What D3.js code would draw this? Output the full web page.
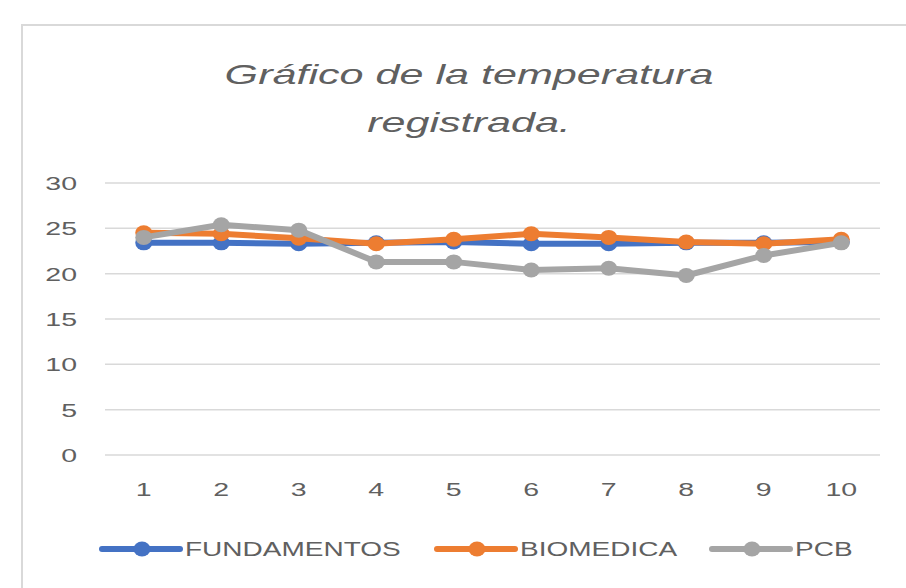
<!DOCTYPE html>
<html>
<head>
<meta charset="utf-8">
<script src="https://cdn.jsdelivr.net/npm/d3@7"></script>
<style>
  body { margin: 0; background: #fff; }
  text { font-family: "Liberation Sans", Arial, sans-serif; fill: #606060; }
</style>
</head>
<body>
<svg id="chart" width="906" height="588"></svg>
<script>
const categories = ["1", "2", "3", "4", "5", "6", "7", "8", "9", "10"];
const fundamentos = [23.4, 23.4, 23.3, 23.4, 23.5, 23.3, 23.3, 23.4, 23.4, 23.5];
const biomedica = [24.5, 24.4, 23.9, 23.3, 23.8, 24.4, 24.0, 23.5, 23.3, 23.8];
const pcb = [24.0, 25.4, 24.8, 21.3, 21.3, 20.4, 20.6, 19.8, 22.0, 23.4];
const seriesNames = ["FUNDAMENTOS", "BIOMEDICA", "PCB"];
const yTicks = [0, 5, 10, 15, 20, 25, 30];

const BLUE = "#4472C4",
  ORANGE = "#ED7D31",
  GRAY = "#A5A5A5";

const series = [
  { name: seriesNames[0], values: fundamentos, color: BLUE },
  { name: seriesNames[1], values: biomedica, color: ORANGE },
  { name: seriesNames[2], values: pcb, color: GRAY },
];

const svg = d3.select("#chart");

// chart frame (only top and left edges are visible in the picture)
svg
  .append("rect")
  .attr("x", 22)
  .attr("y", 25)
  .attr("width", 1000)
  .attr("height", 1000)
  .attr("fill", "#fff")
  .attr("stroke", "#d9d9d9")
  .attr("stroke-width", 2);

const plotLeft = 105,
  plotRight = 880,
  plotTop = 183,
  plotBottom = 455;

const x = d3.scalePoint().domain(categories).range([plotLeft, plotRight]).padding(0.5);
const y = d3.scaleLinear().domain([0, 30]).range([plotBottom, plotTop]);

// stretched text, the original picture is wider than it is tall
const stretchText = (g, px, py, str, size, sx, anchor, style) =>
  g
    .append("text")
    .attr("transform", `translate(${px},${py}) scale(${sx},1)`)
    .attr("text-anchor", anchor)
    .attr("font-size", size)
    .attr("font-style", style || "normal")
    .text(str);

stretchText(svg, 469, 84, "Gráfico de la temperatura", 28, 1.54, "middle", "italic");
stretchText(svg, 469, 132, "registrada.", 28, 1.54, "middle", "italic");

// gridlines
svg
  .append("g")
  .selectAll("line")
  .data(yTicks)
  .join("line")
  .attr("x1", plotLeft)
  .attr("x2", plotRight)
  .attr("y1", (d) => y(d))
  .attr("y2", (d) => y(d))
  .attr("stroke", "#d9d9d9")
  .attr("stroke-width", 1.5);

const yLabels = svg.append("g");
yTicks.forEach((t) => stretchText(yLabels, 77, y(t) + 7, t, 19, 1.5, "end"));

const xLabels = svg.append("g");
categories.forEach((c) => stretchText(xLabels, x(c), 496, c, 19, 1.5, "middle"));

const line = d3
  .line()
  .x((d, i) => x(categories[i]))
  .y((d) => y(d));

series.forEach((s) => {
  const g = svg.append("g");
  g.append("path")
    .attr("d", line(s.values))
    .attr("fill", "none")
    .attr("stroke", s.color)
    .attr("stroke-width", 6)
    .attr("stroke-linejoin", "round");
  g.selectAll("ellipse")
    .data(s.values)
    .join("ellipse")
    .attr("cx", (d, i) => x(categories[i]))
    .attr("cy", (d) => y(d))
    .attr("rx", 8.5)
    .attr("ry", 7.5)
    .attr("fill", s.color);
});

// legend
const legendX = [102, 437, 712];
const legend = svg.append("g");
series.forEach((s, i) => {
  const lx = legendX[i];
  legend
    .append("line")
    .attr("x1", lx)
    .attr("x2", lx + 78)
    .attr("y1", 549)
    .attr("y2", 549)
    .attr("stroke", s.color)
    .attr("stroke-width", 6)
    .attr("stroke-linecap", "round");
  legend
    .append("ellipse")
    .attr("cx", lx + 40)
    .attr("cy", 549)
    .attr("rx", 8.5)
    .attr("ry", 7.5)
    .attr("fill", s.color);
  stretchText(legend, lx + 83, 556, s.name, 20, 1.4, "start");
});
</script>
</body>
</html>
